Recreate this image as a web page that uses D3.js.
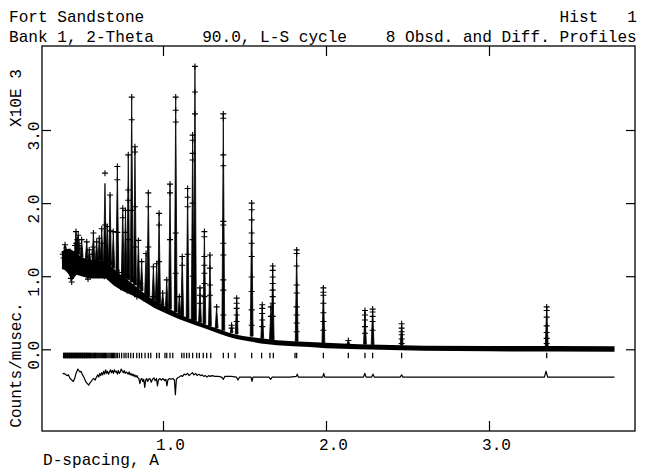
<!DOCTYPE html>
<html><head><meta charset="utf-8">
<script src="https://cdn.jsdelivr.net/npm/d3@7"></script>
<style>
body{margin:0;background:#fff}
text{font-family:"Liberation Mono","Courier New",monospace;font-size:16.1px;fill:#000;white-space:pre}
</style>
</head><body><svg id="c" width="645" height="472"></svg>
<script>
// ---------------- DATA ----------------
const xTickVals=[1,2,3];
const xTickLabels=["1.0","2.0","3.0"];
const yTickVals=[0,1,2,3];
const yTickLabels=["0.0","1.0","2.0","3.0"];

// observed/calculated background band (thousand counts/musec)
const bandD =[0.380,0.400,0.420,0.440,0.470,0.500,0.550,0.600,0.650,0.700,0.750,0.800,0.850,0.900,0.950,1.000,1.050,1.100,1.150,1.200,1.250,1.300,1.350,1.400,1.450,1.500,1.600,1.700,1.800,1.900,2.000,2.200,2.400,2.600,3.000,3.400,3.770];
const bandLo=[1.10,1.08,1.03,0.94,1.02,1.00,0.97,0.97,0.97,0.87,0.80,0.75,0.70,0.63,0.56,0.51,0.46,0.41,0.37,0.33,0.29,0.25,0.21,0.17,0.14,0.12,0.08,0.055,0.04,0.03,0.015,0.0,-0.01,-0.02,-0.028,-0.03,-0.033];
const bandHi=[1.33,1.38,1.37,1.36,1.32,1.26,1.22,1.22,1.20,1.10,1.00,0.92,0.83,0.74,0.66,0.60,0.54,0.48,0.43,0.39,0.35,0.31,0.27,0.23,0.20,0.18,0.15,0.125,0.11,0.10,0.09,0.07,0.06,0.05,0.045,0.045,0.043];

// Bragg peaks: position, calculated top, foot level
const peakD   =[0.399,0.425,0.466,0.480,0.501,0.532,0.548,0.573,0.593,0.609,0.624,0.644,0.658,0.675,0.695,0.720,0.753,0.770,0.787,0.808,0.828,0.849,0.869,0.896,0.910,0.941,0.961,0.976,0.998,1.023,1.043,1.078,1.100,1.118,1.151,1.182,1.196,1.227,1.254,1.288,1.329,1.370,1.421,1.452,1.544,1.609,1.662,1.673,1.820,1.984,2.137,2.239,2.286,2.464,3.354];
const peakTop =[1.43,1.31,1.61,1.56,1.50,1.47,1.36,1.59,1.47,1.52,1.65,2.27,1.68,2.11,1.61,2.50,1.93,1.90,2.66,3.45,2.77,1.49,1.20,1.31,2.14,1.13,1.17,1.86,0.77,0.95,2.26,3.45,0.72,1.27,2.20,2.93,3.87,0.84,1.61,1.29,0.58,3.22,0.33,0.70,2.00,0.61,0.58,1.15,1.37,0.86,0.12,0.53,0.55,0.36,0.59];
const peakBase=[1.38,1.37,1.32,1.30,1.26,1.24,1.22,1.22,1.22,1.22,1.21,1.20,1.18,1.15,1.11,1.06,0.99,0.97,0.95,0.92,0.88,0.83,0.80,0.75,0.72,0.67,0.65,0.63,0.60,0.57,0.55,0.51,0.48,0.46,0.43,0.40,0.39,0.37,0.35,0.32,0.29,0.26,0.23,0.21,0.18,0.15,0.13,0.13,0.11,0.09,0.075,0.07,0.065,0.06,0.045];
// observed points (crosses) read along each peak
const peakObs=[[1.43],[1.31],[1.61,1.45],[1.56,1.42],[1.50],[1.47],[1.36],[1.59,1.40],[1.47],[1.52],
[1.65,1.45],[2.41,1.70],[1.68],[2.11,1.62],[1.61],[2.50,2.32,1.60],[1.93,1.80],[1.90,1.60],[2.66,2.18,2.04,1.50],[3.45,3.14,1.90],
[2.77,2.70,1.95,1.40],[1.49],[1.20],[1.31],[2.14,1.95,1.40],[1.13],[1.17],[1.86,1.70,1.20],[0.77],[0.95],
[2.26,2.14,1.50],[3.45,3.27,3.11,1.59,1.04],[0.72],[1.27,1.15],[2.20,2.08,1.95,1.30],[2.93,2.86,2.68,2.59,2.00,1.50,1.00],[3.87,3.52,3.22],[0.84,0.74,0.63],[1.61,1.54,1.27,1.15,1.04,0.90,0.72],[1.29,1.11,0.88,0.74],
[0.58],[3.22,3.16,2.66,2.51,1.75,1.70,1.45,1.29,0.95,0.81,0.47],[0.33,0.29],[0.70,0.63,0.56,0.47,0.38],[2.00,1.91,1.77,1.59,1.45,1.27,0.99,0.79,0.54,0.33],[0.61,0.56,0.49,0.40,0.31],[0.58,0.45],[1.14,1.08,0.99,0.90,0.81,0.72,0.63,0.45],[1.36,1.31,1.14,0.88,0.77,0.58,0.47,0.36,0.24],[0.84,0.78,0.74,0.63,0.50,0.38,0.26],
[0.12],[0.53,0.47,0.40,0.31,0.22],[0.55,0.51,0.45,0.38,0.26],[0.35,0.29,0.24,0.20,0.14,0.08],[0.58,0.53,0.44,0.32,0.23,0.15,0.08]];

// scattered observed points in the noisy low-d region
const noisePts=[[0.385,1.30],[0.390,1.25],[0.395,1.33],[0.405,1.22],[0.410,1.28],[0.415,1.20],[0.420,1.31],[0.430,1.12],[0.435,0.97],[0.440,0.92],[0.445,1.05],[0.450,1.18],[0.455,1.30],[0.460,1.42],[0.475,1.50],[0.485,1.45],[0.490,1.38],[0.505,1.20],[0.510,1.15],[0.520,1.10],[0.525,1.05],[0.535,1.00],[0.540,0.96],[0.545,1.12],[0.555,1.05],[0.565,1.30],[0.580,1.15],[0.585,1.10],[0.600,1.02],[0.615,1.10],[0.630,1.05],[0.640,1.00],[0.660,1.25],[0.680,1.18],[0.710,0.95],[0.730,1.05],[0.740,0.85],[0.760,1.02],[0.780,0.80],[0.790,1.00],[0.820,0.95],[0.840,0.72],[0.860,0.90],[0.880,0.70],[0.920,0.65],[0.940,0.72],[0.970,0.62],[0.990,0.58]];

// reflection positions
const reflD=[0.390,0.394,0.398,0.402,0.406,0.410,0.414,0.418,0.422,0.426,0.430,0.434,0.438,0.442,0.446,0.450,0.454,0.458,0.462,0.466,0.470,0.474,0.478,0.482,0.486,0.490,0.494,0.498,0.502,0.506,0.510,0.514,0.518,0.522,0.526,0.530,0.534,0.538,0.542,0.546,0.550,0.555,0.560,0.565,0.570,0.575,0.580,0.585,0.590,0.595,0.600,0.606,0.612,0.618,0.624,0.630,0.636,0.642,0.648,0.655,0.662,0.669,0.676,0.683,0.690,0.697,0.704,0.712,0.720,0.732,0.746,0.761,0.773,0.787,0.802,0.818,0.839,0.855,0.869,0.890,0.910,0.925,0.961,0.977,1.012,1.023,1.043,1.060,1.115,1.129,1.145,1.161,1.182,1.207,1.223,1.247,1.268,1.293,1.370,1.401,1.442,1.544,1.605,1.656,1.677,1.810,1.820,1.984,2.137,2.239,2.286,2.464,3.354];
const reflRow=-0.085;

// difference curve (offset)
const diffPts=[[0.385,-0.34],[0.390,-0.33],[0.400,-0.34],[0.410,-0.36],[0.420,-0.35],[0.430,-0.40],[0.440,-0.42],[0.450,-0.44],[0.458,-0.40],[0.465,-0.34],[0.472,-0.30],[0.478,-0.27],[0.484,-0.29],[0.490,-0.31],[0.497,-0.30],[0.504,-0.34],[0.512,-0.37],[0.520,-0.41],[0.528,-0.45],[0.536,-0.47],[0.544,-0.49],[0.552,-0.46],[0.560,-0.44],[0.568,-0.41],[0.576,-0.40],[0.584,-0.42],[0.592,-0.38],[0.600,-0.35],[0.606,-0.38],[0.612,-0.33],[0.618,-0.36],[0.624,-0.32],[0.630,-0.35],[0.636,-0.30],[0.642,-0.34],[0.648,-0.28],[0.654,-0.33],[0.660,-0.30],[0.666,-0.34],[0.672,-0.31],[0.678,-0.28],[0.684,-0.32],[0.690,-0.29],[0.696,-0.33],[0.702,-0.28],[0.708,-0.31],[0.714,-0.30],[0.720,-0.34],[0.726,-0.29],[0.732,-0.33],[0.738,-0.31],[0.744,-0.27],[0.750,-0.30],[0.756,-0.32],[0.762,-0.29],[0.768,-0.33],[0.774,-0.31],[0.780,-0.32],[0.786,-0.34],[0.792,-0.31],[0.798,-0.35],[0.804,-0.33],[0.810,-0.36],[0.816,-0.34],[0.822,-0.37],[0.828,-0.35],[0.834,-0.38],[0.840,-0.36],[0.846,-0.39],[0.852,-0.40],[0.858,-0.47],[0.864,-0.41],[0.870,-0.40],[0.876,-0.44],[0.882,-0.41],[0.888,-0.52],[0.894,-0.42],[0.900,-0.40],[0.906,-0.44],[0.912,-0.41],[0.920,-0.40],[0.928,-0.45],[0.936,-0.41],[0.944,-0.39],[0.952,-0.43],[0.960,-0.40],[0.966,-0.50],[0.972,-0.42],[0.980,-0.40],[0.990,-0.42],[1.000,-0.40],[1.010,-0.43],[1.018,-0.41],[1.024,-0.50],[1.030,-0.42],[1.040,-0.40],[1.050,-0.41],[1.060,-0.40],[1.070,-0.42],[1.076,-0.62],[1.082,-0.41],[1.090,-0.39],[1.100,-0.38],[1.110,-0.36],[1.120,-0.37],[1.130,-0.34],[1.140,-0.35],[1.150,-0.33],[1.160,-0.36],[1.170,-0.34],[1.180,-0.32],[1.190,-0.35],[1.200,-0.33],[1.210,-0.36],[1.220,-0.34],[1.230,-0.36],[1.240,-0.35],[1.250,-0.37],[1.260,-0.36],[1.270,-0.38],[1.280,-0.36],[1.290,-0.37],[1.300,-0.36],[1.320,-0.37],[1.340,-0.37],[1.360,-0.38],[1.370,-0.41],[1.380,-0.37],[1.420,-0.37],[1.450,-0.38],[1.460,-0.42],[1.470,-0.38],[1.540,-0.38],[1.546,-0.44],[1.552,-0.38],[1.650,-0.38],[1.660,-0.41],[1.670,-0.38],[1.780,-0.38],[1.818,-0.37],[1.824,-0.34],[1.830,-0.38],[1.980,-0.38],[1.986,-0.33],[1.992,-0.38],[2.230,-0.38],[2.238,-0.33],[2.246,-0.38],[2.280,-0.38],[2.288,-0.34],[2.296,-0.38],[2.455,-0.38],[2.464,-0.35],[2.472,-0.38],[3.340,-0.38],[3.350,-0.30],[3.360,-0.38],[3.770,-0.38]];

// ---------------- DRAW ----------------
const W=645,H=472,L=42,R=635,T=46,B=431;
const x=d3.scaleLinear().domain([0.2577,3.8957]).range([L,R]);
const y=d3.scaleLinear().domain([-1.1177,4.1492]).range([B,T]);
const svg=d3.select("#c");
svg.append("rect").attr("width",W).attr("height",H).attr("fill","#fff");

const g=svg.append("g");
g.append("path").datum(bandD)
 .attr("d",d3.area().x(d=>x(d)).y0((d,i)=>y(bandLo[i])).y1((d,i)=>y(bandHi[i])))
 .attr("fill","#000");
g.selectAll("path.pk").data(peakD).join("path").attr("class","pk")
 .attr("d",(d,i)=>{const px=x(d),pt=y(peakTop[i]),pb=y(peakBase[i]);return `M${px-1.4},${pb}L${px},${pt}L${px+1.4},${pb}Z`;})
 .attr("fill","#000").attr("stroke","#000").attr("stroke-width",0.8).attr("stroke-linejoin","round");
const cross="M-3,0H3M0,-3V3";
const obs=[];
peakD.forEach((d,i)=>peakObs[i].forEach(v=>obs.push([d,v])));
noisePts.forEach(p=>obs.push(p));
g.selectAll("path.ob").data(obs).join("path").attr("class","ob")
 .attr("transform",p=>`translate(${x(p[0])},${y(p[1])})`)
 .attr("d",cross).attr("stroke","#000").attr("stroke-width",1.1).attr("fill","none");
g.selectAll("line.rf").data(reflD).join("line").attr("class","rf")
 .attr("x1",d=>x(d)).attr("x2",d=>x(d))
 .attr("y1",y(reflRow)-2.8).attr("y2",y(reflRow)+2.8)
 .attr("stroke","#000").attr("stroke-width",1.25);
g.append("path").datum(diffPts)
 .attr("d",d3.line().x(p=>x(p[0])).y(p=>y(p[1])))
 .attr("fill","none").attr("stroke","#000").attr("stroke-width",1.2).attr("stroke-linejoin","round");

const clean=a=>{a.select(".domain").remove();a.attr("font-family",null).attr("font-size",null);a.selectAll("line").attr("stroke-width",1.2);};
svg.append("g").attr("transform",`translate(0,${B})`)
 .call(d3.axisBottom(x).tickValues(xTickVals).tickSize(-10).tickPadding(19).tickFormat((d,i)=>xTickLabels[i]))
 .call(clean).call(a=>a.selectAll("text").attr("dy",0).attr("dx",7));
svg.append("g").attr("transform",`translate(0,${T})`)
 .call(d3.axisTop(x).tickValues(xTickVals).tickSize(-10).tickFormat(""))
 .call(clean);
svg.append("g").attr("transform",`translate(${L},0)`)
 .call(d3.axisLeft(y).tickValues(yTickVals).tickSize(-9).tickFormat(""))
 .call(clean);
svg.append("g").attr("transform",`translate(${R},0)`)
 .call(d3.axisRight(y).tickValues(yTickVals).tickSize(-9).tickFormat(""))
 .call(clean);
svg.selectAll("text.yl").data(yTickVals).join("text").attr("class","yl")
 .attr("transform",(d)=>`translate(38.5,${y(d)+6}) rotate(-90)`)
 .attr("text-anchor","middle").text((d,i)=>yTickLabels[i]);
svg.append("rect").attr("x",L).attr("y",T).attr("width",R-L).attr("height",B-T)
 .attr("fill","none").attr("stroke","#000").attr("stroke-width",1.3);

svg.append("text").attr("x",9).attr("y",21.5).text("Fort Sandstone");
svg.append("text").attr("x",559.6).attr("y",21.5).text("Hist   1");
svg.append("text").attr("x",9).attr("y",41.5).text("Bank 1, 2-Theta     90.0, L-S cycle    8 Obsd. and Diff. Profiles");
svg.append("text").attr("x",43).attr("y",465).text("D-spacing, A");
svg.append("text").attr("transform","translate(20.5,98) rotate(-90)").attr("text-anchor","middle").text("X10E 3");
svg.append("text").attr("transform","translate(20.5,365) rotate(-90)").attr("text-anchor","middle").text("Counts/musec.");
</script>
</body></html>
